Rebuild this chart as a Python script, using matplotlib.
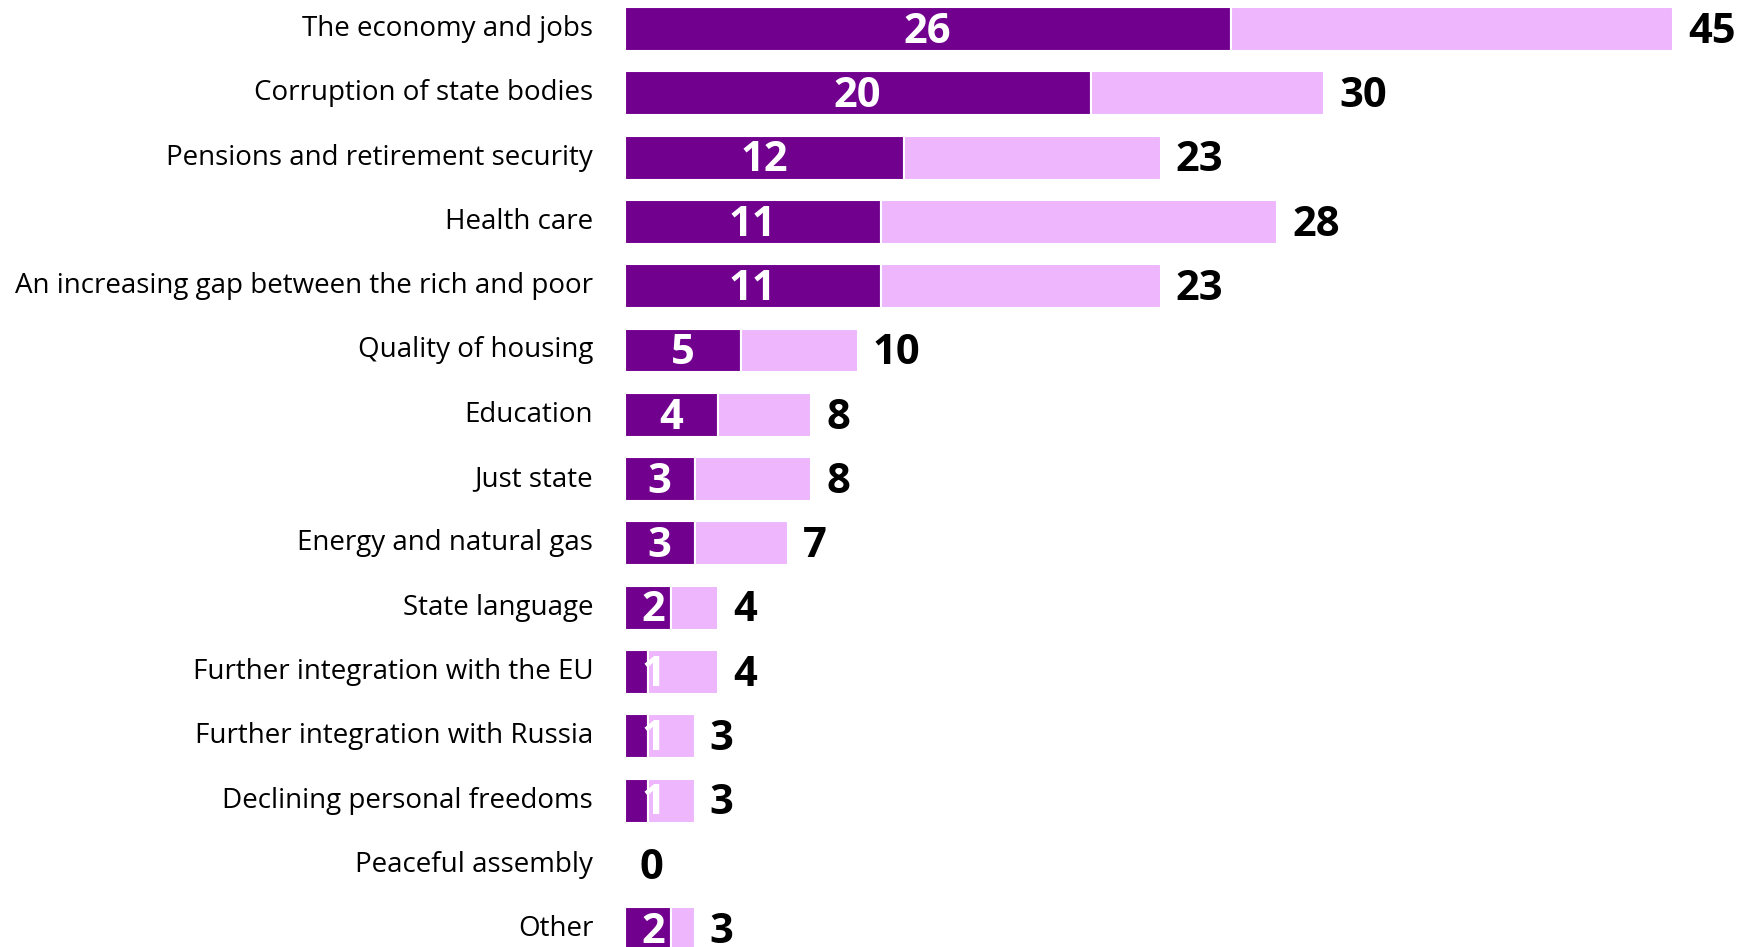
import numpy as np
import matplotlib
matplotlib.use("Agg")
from matplotlib import pyplot as plt

## data

categories = ["The economy and jobs", "Corruption of state bodies",
              "Pensions and retirement security", "Health care",
              "An increasing gap between the rich and poor", "Quality of housing",
              "Education", "Just state", "Energy and natural gas", "State language",
              "Further integration with the EU", "Further integration with Russia",
              "Declining personal freedoms", "Peaceful assembly", "Other"]
first_choice = [26, 20, 12, 11, 11, 5, 4, 3, 3, 2, 1, 1, 1, 0, 2]
total        = [45, 30, 23, 28, 23, 10, 8, 8, 7, 4, 4, 3, 3, 0, 3]

dark  = "#72008f"
light = "#eeb6fc"

plt.rcParams['font.family'] = ['Open Sans', 'DejaVu Sans']

## figure and axes

fig = plt.figure(figsize=(17.55, 9.47), dpi=100)
ax  = fig.add_axes([0.3559, 0.0, 0.6441, 1.0])

ypos   = np.arange(len(categories))
barh_h = 0.684
rest   = [t - f for t, f in zip(total, first_choice)]

ax.barh(ypos, first_choice, height=barh_h, color=dark, edgecolor="white", linewidth=1.5)
ax.barh(ypos, rest, left=first_choice, height=barh_h, color=light, edgecolor="white", linewidth=1.5)

for y, cat, f, t in zip(ypos, categories, first_choice, total):
    if f > 0:
        ax.text(max(f / 2.0, 1.22), y + 0.05, str(f), ha="center", va="center",
                color="white", fontsize=30, fontweight="bold")
    ax.text(t + 0.65, y + 0.05, str(t), ha="left", va="center",
            color="black", fontsize=30, fontweight="bold")
    ax.text(-1.35, y, cat, ha="right", va="center", color="black", fontsize=20)

ax.set_xlim(0, 48.5)
ax.set_ylim(14.277, -0.451)
ax.axis("off")

fig.savefig("out.png", dpi=100)
